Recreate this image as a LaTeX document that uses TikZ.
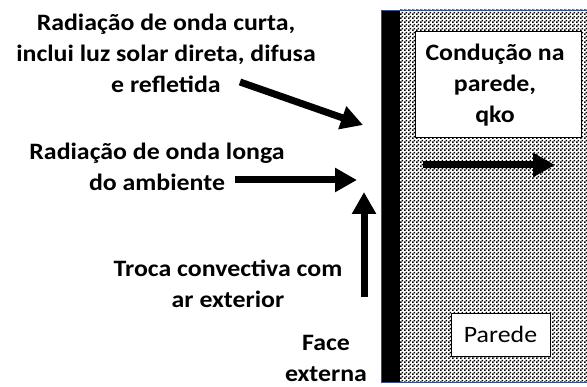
\documentclass[tikz,border=0pt]{standalone}
\usepackage{fontspec}
\setmainfont{Carlito}
\newfontfamily\lblfont[FakeStretch=1.1]{Carlito}
\usetikzlibrary{arrows.meta,patterns.meta}
\definecolor{edgeblue}{RGB}{47,82,143}
\tikzdeclarepattern{name=walldots, type=uncolored,
  bounding box={(0pt,0pt) and (4pt,4pt)}, tile size={(4pt,4pt)},
  code={\fill (0pt,0pt) rectangle (2pt,2pt); \fill (2pt,2pt) rectangle (4pt,4pt);}}
\tikzset{
  lbl/.style={font=\lblfont\bfseries\fontsize{23.5}{31}\selectfont, align=center, inner sep=0pt},
  fatarrow/.style={line width=7pt, -{Triangle[length=22pt,width=23pt]}},
  whitebox/.style={draw=black, line width=0.8pt, fill=white, inner sep=0pt}
}
\begin{document}
\begin{tikzpicture}[x=1pt,y=-1pt]
\useasboundingbox (0,0) rectangle (587,387);
% wall body
\fill[white] (400,10) rectangle (590,382);
\fill[pattern=walldots, pattern color=black] (400,10) rectangle (590,382);
\fill[black] (382,10) rectangle (400,382);
\draw[edgeblue, line width=0.8pt] (590,10) -- (381.5,10) -- (381.5,382) -- (590,382);
% boxes
\node[whitebox, minimum width=166pt, minimum height=106pt] (cond) at (498,84) {};
\node[lbl] (condt) at (495,85) {Condução na\\parede,\\qko};
\node[whitebox, minimum width=99pt, minimum height=43pt, font=\lblfont\fontsize{23.5}{28}\selectfont] (par) at (500.5,334.5) {Parede};
% labels
\node[lbl] (sw) at (166,53) {Radiação de onda curta,\\inclui luz solar direta, difusa\\e refletida};
\node[lbl] (lw) at (157,167) {Radiação de onda longa\\do ambiente};
\node[lbl] (cv) at (228,284) {Troca convectiva com\\ar exterior};
\node[lbl] (fe) at (326,358) {Face\\externa};
% arrow ends
\coordinate (a1s) at (240,82);  \coordinate (a1e) at (363,125);
\coordinate (a2s) at (235,180); \coordinate (a2e) at (357,180);
\coordinate (a3s) at (364,297); \coordinate (a3e) at (364,192);
\coordinate (a4s) at (423,165); \coordinate (a4e) at (555,165);
\draw[fatarrow] (a1s) -- (a1e);
\draw[fatarrow] (a2s) -- (a2e);
\draw[fatarrow] (a3s) -- (a3e);
\draw[fatarrow] (a4s) -- (a4e);
\end{tikzpicture}
\end{document}
